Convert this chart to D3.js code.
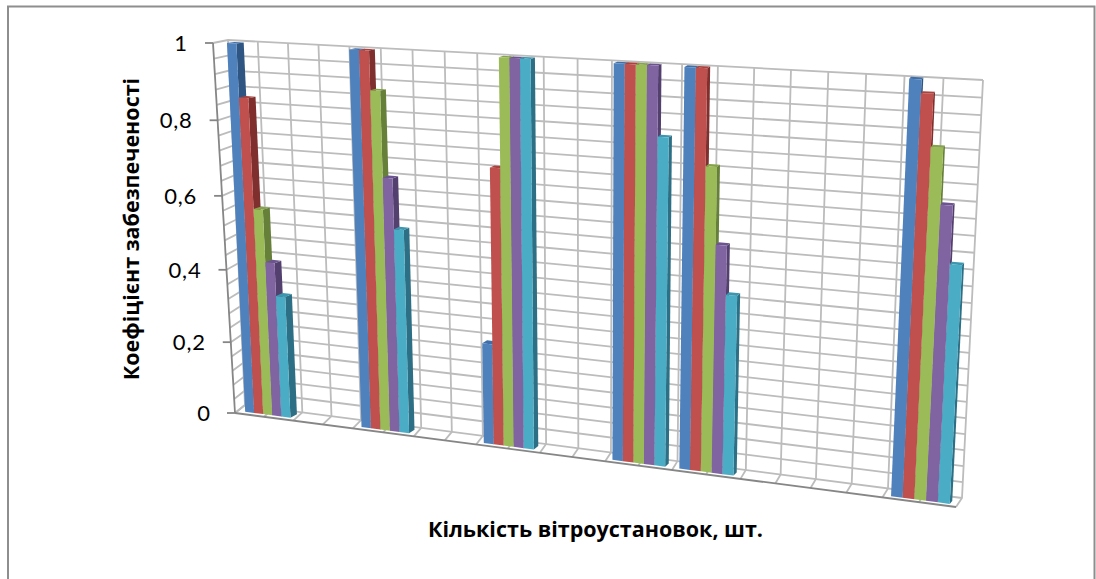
<!DOCTYPE html>
<html><head><meta charset="utf-8">
<script src="https://cdn.jsdelivr.net/npm/d3@7"></script>
<style>html,body{margin:0;padding:0;background:#fff}svg{display:block}text{font-family:Lato,"Open Sans",sans-serif;fill:#000}</style>
</head><body><svg id="c" width="1096" height="579"></svg>
<script>
const categoryPositions = [0, 2, 4, 6, 7, 10];
const categoryCount = 11;
const seriesA = [1.00, 1.00, 0.268, 1.00, 1.00, 1.00];
const seriesB = [0.86, 1.00, 0.725, 1.00, 1.00, 0.969];
const seriesC = [0.567, 0.90, 1.00, 1.00, 0.767, 0.848];
const seriesD = [0.425, 0.678, 1.00, 1.00, 0.578, 0.717];
const seriesE = [0.336, 0.546, 1.00, 0.83, 0.457, 0.58];
const seriesList = [seriesA, seriesB, seriesC, seriesD, seriesE];
const faceColours = ["#4f81bd","#c0504d","#9bbb59","#8064a2","#4bacc6"];
const sideColours = ["#2f5682","#7f2f2d","#66803a","#54406f","#2d7085"];
const topColours  = ["#3f6ea8","#a8433f","#85a348","#6c5490","#3b96ae"];
const yTicks = [0, 0.2, 0.4, 0.6, 0.8, 1];
const yTickLabels = ["0","0,2","0,4","0,6","0,8","1"];
const yGridStep = 0.04;
const yTitle = "Коефіцієнт забезпеченості";
const xTitle = "Кількість вітроустановок, шт.";

function homography(q){ // q: [p00,p10,p11,p01]
  const [[x0,y0],[x1,y1],[x2,y2],[x3,y3]] = q;
  const dx1=x1-x2,dx2=x3-x2,sx=x0-x1+x2-x3,dy1=y1-y2,dy2=y3-y2,sy=y0-y1+y2-y3;
  const d=dx1*dy2-dx2*dy1;
  const g=(sx*dy2-dx2*sy)/d,h=(dx1*sy-sx*dy1)/d;
  const a=x1-x0+g*x1,b=x3-x0+h*x3,c=x0,e=y1-y0+g*y1,f=y3-y0+h*y3,i=y0;
  return (u,v)=>{const w=g*u+h*v+1;return [(a*u+b*v+c)/w,(e*u+f*v+i)/w];};
}
const backH  = homography([[245,405],[962,498],[983,80],[228,40]]);
const frontH = homography([[235,413],[956,507],[977,89],[213,43]]);
const project=(u,v,w)=>{const a=frontH(u,v),b=backH(u,v);return [a[0]+(b[0]-a[0])*w,a[1]+(b[1]-a[1])*w];};
const barFrontH = homography([[239.5,411],[958,505],[980.5,82.5],[221,42.7]]);
const barBackH  = homography([[246.5,407.5],[960.5,502],[982,80.5],[228.5,41.7]]);

const x = d3.scaleLinear().domain([0,categoryCount]).range([0,1]);
const y = d3.scaleLinear().domain([0,1]).range([0,1]);
const barSpan = d3.scaleBand().domain(d3.range(seriesList.length)).range([0.1,0.89]);

const svg=d3.select("#c");
svg.append("rect").attr("x",8).attr("y",6.5).attr("width",1086.5).attr("height",590).attr("fill","#fff").attr("stroke","#8e8e8e").attr("stroke-width",2);
const line=d3.line();
const grid=svg.append("g").attr("fill","none").attr("stroke","#bcbcbc").attr("stroke-width",1.8);
const yGrid=d3.range(0,1+1e-9,yGridStep);
const gridCols=d3.range(0,categoryCount+1e-9,0.5);
yGrid.forEach(v=>{
  grid.append("path").attr("d",line([project(0,y(v),0),project(0,y(v),1),project(1,y(v),1)]));
});
gridCols.forEach(c=>{
  grid.append("path").attr("d",line([project(x(c),0,0),project(x(c),0,1),project(x(c),1,1)]));
});
const axis=svg.append("g").attr("fill","none").attr("stroke","#868686").attr("stroke-width",1.8);
axis.append("path").attr("d",line([project(0,0,0),project(0,1,0)]));
axis.append("path").attr("d",line([project(0,0,0),project(1,0,0)]));
yTicks.forEach((t,i)=>{
  const p=project(0,y(t),0);
  axis.append("path").attr("d",line([[p[0]-8,p[1]],p]));
  svg.append("text").attr("x",p[0]-(t===1?26:25)).attr("y",p[1]+8).attr("text-anchor","end").attr("font-size",22).attr("letter-spacing",t===0||t===1?0:0.8).text(yTickLabels[i]);
});
const bars=svg.append("g");
categoryPositions.forEach((c,ci)=>{
  seriesList.forEach((s,si)=>{
    const v=s[ci];
    const u0=x(c+barSpan(si)),u1=x(c+barSpan(si)+barSpan.bandwidth());
    const poly=(pts,col)=>bars.append("polygon").attr("points",pts.map(p=>p.join(",")).join(" ")).attr("fill",col);
    poly([barFrontH(u1,0),barBackH(u1,0),barBackH(u1,y(v)),barFrontH(u1,y(v))],sideColours[si]);
    poly([barFrontH(u0,y(v)),barFrontH(u1,y(v)),barBackH(u1,y(v)),barBackH(u0,y(v))],topColours[si]);
    poly([barFrontH(u0,0),barFrontH(u1,0),barFrontH(u1,y(v)),barFrontH(u0,y(v))],faceColours[si]);
  });
});
svg.append("text").attr("transform","translate(139,229) rotate(-90)").attr("text-anchor","middle").attr("font-size",21.5).attr("font-weight",700).style("font-family","'Open Sans'").text(yTitle);
svg.append("text").attr("x",595.5).attr("y",537).attr("text-anchor","middle").attr("font-size",21.5).attr("font-weight",700).style("font-family","'Open Sans'").text(xTitle);
</script></body></html>
